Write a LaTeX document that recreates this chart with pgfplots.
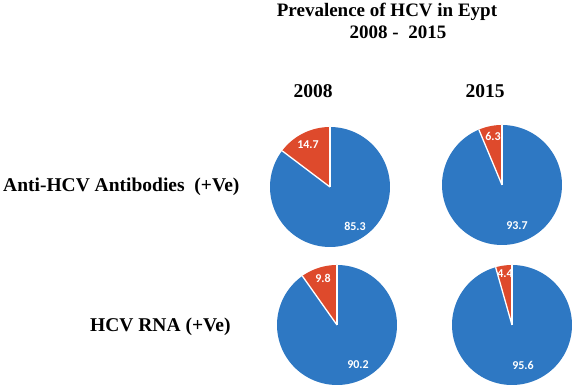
\documentclass[border=0pt]{standalone}
\usepackage{pgfplots}
\pgfplotsset{compat=1.18}
\usepackage{fontspec}
\setmainfont{Liberation Serif}
\newfontfamily\lblfont{Carlito}
\definecolor{pieblue}{HTML}{2E78C3}
\definecolor{piered}{HTML}{DE4A2C}

% #1 cx px, #2 cy px (from top), #3 red share, #4 blue share
\newcommand{\pie}[4]{%
  \pgfmathsetmacro{\ra}{90}%
  \pgfmathsetmacro{\rb}{90+3.6*#3}%
  \pgfmathsetmacro{\bb}{\rb+3.6*#4}%
  \begin{axis}[at={(#1pt,{390pt-#2pt})}, anchor=center,
    scale only axis, width=120pt, height=120pt,
    xmin=-1, xmax=1, ymin=-1, ymax=1, hide axis, clip=false]
    \addplot[fill=pieblue, draw=none, domain=\rb:\bb, samples=120, variable=\t]
      ({cos(\t)},{sin(\t)}) -- (0,0) -- cycle;
    \addplot[fill=piered, draw=none, domain=\ra:\rb, samples=40, variable=\t]
      ({cos(\t)},{sin(\t)}) -- (0,0) -- cycle;
    \addplot[draw=white, line width=1.3pt]
      coordinates {(0,1) (0,0)};
    \addplot[draw=white, line width=1.3pt, domain=0:1, samples=2, variable=\s]
      ({cos(\rb)*\s},{sin(\rb)*\s});
  \end{axis}}

\begin{document}
\begin{tikzpicture}[x=1pt,y=1pt]
\useasboundingbox (0,0) rectangle (574,390);
\pie{330}{187}{14.7}{85.3}
\pie{502}{185}{6.3}{93.7}
\pie{337}{325}{9.8}{90.2}
\pie{512}{325}{4.4}{95.6}

% titles
\node[anchor=base, font=\fontsize{19}{21}\selectfont\bfseries] at (387,390-17) {Prevalence of HCV in Eypt};
\node[anchor=base, font=\fontsize{19}{21}\selectfont\bfseries] at (398,390-39) {2008 -\ \ 2015};
\node[anchor=base, font=\fontsize{19.5}{22}\selectfont\bfseries] at (313,390-98) {2008};
\node[anchor=base, font=\fontsize{19.5}{22}\selectfont\bfseries] at (485,390-98) {2015};
\node[anchor=base west, inner sep=0, font=\fontsize{19.5}{21}\selectfont\bfseries] at (3,390-192) {Anti-HCV Antibodies\ \ (+Ve)};
\node[anchor=base west, inner sep=0, font=\fontsize{19.5}{21}\selectfont\bfseries] at (90,390-332) {HCV RNA (+Ve)};

% slice labels
\tikzset{lbl/.style={text=white, font=\lblfont\fontsize{12}{13}\selectfont\bfseries, inner sep=0}}
\node[lbl] at (308,390-145) {14.7};
\node[lbl] at (355,390-226) {85.3};
\node[lbl] at (493,390-136) {6.3};
\node[lbl] at (517,390-226) {93.7};
\node[lbl] at (323,390-278) {9.8};
\node[lbl] at (358,390-365) {90.2};
\node[lbl] at (505,390-274) {4.4};
\node[lbl] at (523,390-365) {95.6};
\end{tikzpicture}
\end{document}
